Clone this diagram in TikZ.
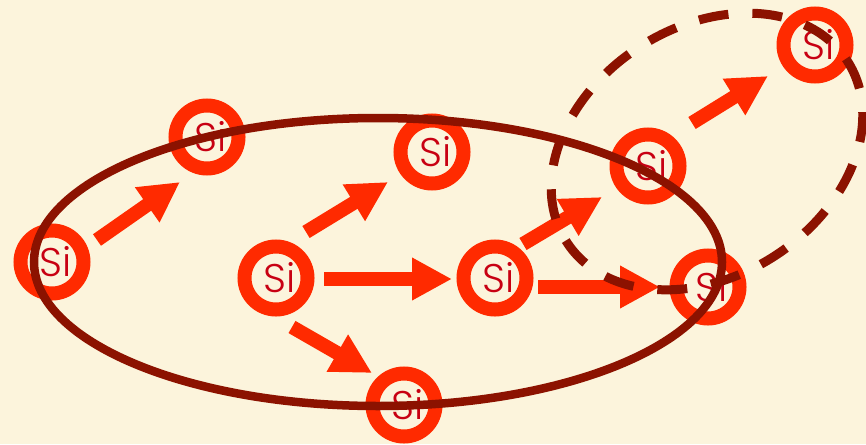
\documentclass[tikz,border=0pt]{standalone}
\usepackage{fontspec}
\setmainfont{Poppins}[UprightFont=* Light]
\usetikzlibrary{arrows.meta,calc}
\definecolor{parchment}{RGB}{252,244,220}
\definecolor{ringred}{RGB}{255,42,0}
\definecolor{sitext}{RGB}{200,0,18}
\definecolor{loopbrown}{RGB}{140,18,0}
\begin{document}
\begin{tikzpicture}[x=1pt,y=-1pt,
  atom/.style={circle, draw=ringred, line width=14pt, minimum size=63pt,
    inner sep=0pt, fill=parchment, text=sitext,
    font=\fontsize{40}{40}\selectfont},
  hop/.style={draw=ringred, line width=14pt,
    -{Triangle[length=40pt,width=40pt]}},
  group/.style={draw=loopbrown, line width=8.5pt},
  subgroup/.style={draw=loopbrown, line width=9pt, dash pattern=on 30pt off 24pt}]
% paper
\fill[parchment] (0,0) rectangle (866,444);
\useasboundingbox (0,0) rectangle (866,444);

% silicon atoms (label nudged a little to the right)
\newcommand{\silabel}{\hspace*{8pt}Si}
\node[atom] (a) at (52,262) {\silabel};
\node[atom] (b) at (207,137) {\silabel};
\node[atom] (c) at (432,152) {\silabel};
\node[atom] (d) at (276,278) {\silabel};
\node[atom] (e) at (495,278) {\silabel};
\node[atom] (f) at (648,166) {\silabel};
\node[atom] (g) at (708,287) {\silabel};
\node[atom] (h) at (404,405) {\silabel};
\node[atom] (i) at (815,45) {\silabel};

% hops between atoms
\draw[hop] ($(a)+(45,-22)$) -- ($(b)+(-27,45)$);
\draw[hop] ($(d)+(30,-46)$) -- ($(c)+(-44,30)$);
\draw[hop] ($(d)+(48,1)$) -- ($(e)+(-43,1)$);
\draw[hop] ($(d)+(16,49)$) -- ($(h)+(-32,-32)$);
\draw[hop] ($(e)+(28,-34)$) -- ($(f)+(-46,31)$);
\draw[hop] ($(e)+(43,9)$) -- ($(g)+(-48,0)$);
\draw[hop] ($(f)+(44,-43)$) -- ($(i)+(-47,31)$);

% groupings
\draw[group] (378,262) ellipse [x radius=344, y radius=144];
\draw[subgroup, rotate around={32.8:(707,151.5)}] (707,151.5) ellipse [x radius=167, y radius=124.5];
\end{tikzpicture}
\end{document}
